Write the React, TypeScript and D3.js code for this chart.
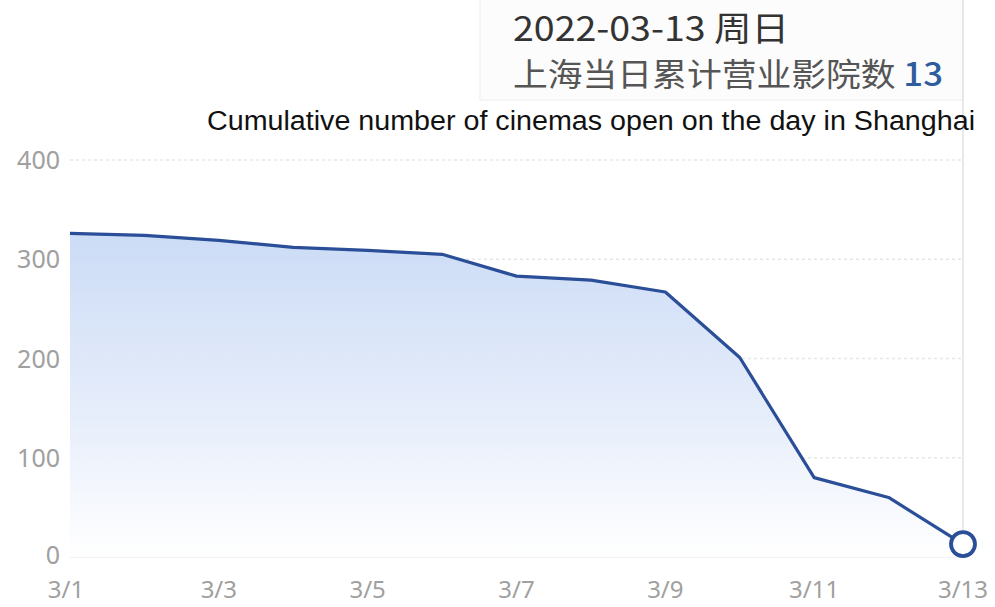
import React, { useEffect, useRef } from "react";
import * as d3 from "d3";

// Data
const days: string[] = [
  "3/1", "3/2", "3/3", "3/4", "3/5", "3/6", "3/7",
  "3/8", "3/9", "3/10", "3/11", "3/12", "3/13",
];
const cinemas: number[] = [326, 324, 319, 312, 309, 305, 283, 279, 267, 201, 80, 60, 13];
const yTicks: number[] = [0, 100, 200, 300, 400];
const xTickLabels: string[] = ["3/1", "3/3", "3/5", "3/7", "3/9", "3/11", "3/13"];

const App: React.FC = () => {
  const svgRef = useRef<SVGSVGElement>(null);

  useEffect(() => {
    if (!svgRef.current) return;
    const width = 995;
    const height = 607;
    const margin = { top: 160, right: 32, bottom: 50, left: 70 };

    const svg = d3.select(svgRef.current);
    svg.selectAll("*").remove();
    svg.attr("width", width).attr("height", height);

    const xScale = d3
      .scalePoint<string>()
      .domain(days)
      .range([margin.left, width - margin.right]);

    const yScale = d3
      .scaleLinear()
      .domain([0, 400])
      .range([height - margin.bottom, margin.top]);

    // Gradient for the area
    const defs = svg.append("defs");
    const grad = defs
      .append("linearGradient")
      .attr("id", "areaFill")
      .attr("x1", 0)
      .attr("y1", 0)
      .attr("x2", 0)
      .attr("y2", 1);
    grad.append("stop").attr("offset", "0%").attr("stop-color", "#c6d8f5");
    grad.append("stop").attr("offset", "55%").attr("stop-color", "#e3ebfa");
    grad.append("stop").attr("offset", "100%").attr("stop-color", "#ffffff");

    // Tooltip panel background
    const lastX = xScale(days[days.length - 1]) || 0;
    svg
      .append("rect")
      .attr("x", 480)
      .attr("y", -4)
      .attr("width", lastX - 480)
      .attr("height", 104)
      .attr("fill", "#fcfcfc")
      .attr("stroke", "#f3f3f3")
      .attr("stroke-width", 1.5);

    // Grid lines
    svg
      .append("g")
      .selectAll("line")
      .data(yTicks.filter((d) => d > 0))
      .enter()
      .append("line")
      .attr("x1", margin.left)
      .attr("x2", lastX)
      .attr("y1", (d) => yScale(d))
      .attr("y2", (d) => yScale(d))
      .attr("stroke", "#e6e6e6")
      .attr("stroke-width", 1.5)
      .attr("stroke-dasharray", "3,3");

    // Baseline
    svg
      .append("line")
      .attr("x1", margin.left)
      .attr("x2", lastX)
      .attr("y1", yScale(0))
      .attr("y2", yScale(0))
      .attr("stroke", "#ececec")
      .attr("stroke-width", 1.5);

    // Crosshair
    svg
      .append("line")
      .attr("x1", lastX)
      .attr("x2", lastX)
      .attr("y1", 0)
      .attr("y2", yScale(0))
      .attr("stroke", "#e2e2e2")
      .attr("stroke-width", 1.5);

    // Area
    const area = d3
      .area<number>()
      .x((_, i) => xScale(days[i]) || 0)
      .y0(yScale(0))
      .y1((d) => yScale(d));
    svg
      .append("path")
      .datum(cinemas)
      .attr("d", area)
      .attr("fill", "url(#areaFill)")
      .attr("opacity", 0.9);

    // Line
    const line = d3
      .line<number>()
      .x((_, i) => xScale(days[i]) || 0)
      .y((d) => yScale(d));
    svg
      .append("path")
      .datum(cinemas)
      .attr("d", line)
      .attr("fill", "none")
      .attr("stroke", "#2b4e98")
      .attr("stroke-width", 3.2)
      .attr("stroke-linejoin", "round");

    // Highlighted end point
    svg
      .append("circle")
      .attr("cx", lastX)
      .attr("cy", yScale(cinemas[cinemas.length - 1]))
      .attr("r", 12)
      .attr("fill", "#ffffff")
      .attr("stroke", "#2b4e98")
      .attr("stroke-width", 3.8);

    // Y axis labels
    svg
      .append("g")
      .selectAll("text")
      .data(yTicks)
      .enter()
      .append("text")
      .attr("x", 60)
      .attr("y", (d) => yScale(d) - (d === 0 ? 2 : 0))
      .attr("dy", "0.36em")
      .attr("text-anchor", "end")
      .style("font-family", "'Noto Sans', sans-serif")
      .style("font-size", "25px")
      .style("fill", "#a0a0a0")
      .text((d) => d);

    // X axis labels
    svg
      .append("g")
      .selectAll("text")
      .data(xTickLabels)
      .enter()
      .append("text")
      .attr("x", (d) => (xScale(d) || 0) - (d === "3/1" ? 4 : 0))
      .attr("y", 598)
      .attr("text-anchor", "middle")
      .style("font-family", "'Noto Sans', sans-serif")
      .style("font-size", "24px")
      .style("fill", "#a0a0a0")
      .text((d) => d);

    // Tooltip texts
    svg
      .append("text")
      .attr("x", 513)
      .attr("y", 41)
      .attr("textLength", 276)
      .attr("lengthAdjust", "spacingAndGlyphs")
      .style("font-family", "'Noto Sans CJK SC', 'Noto Sans', sans-serif")
      .style("font-size", "34px")
      .style("fill", "#333333")
      .text("2022-03-13 周日");

    const t2 = svg
      .append("text")
      .attr("x", 513)
      .attr("y", 86)
      .attr("textLength", 430)
      .attr("lengthAdjust", "spacingAndGlyphs")
      .style("font-family", "'Noto Sans CJK SC', 'Noto Sans', sans-serif")
      .style("font-size", "32px")
      .style("fill", "#555555");
    t2.append("tspan").text("上海当日累计营业影院数 ");
    t2.append("tspan")
      .style("fill", "#2f5c9c")
      .style("font-weight", "500")
      .text(cinemas[cinemas.length - 1]);

    svg
      .append("text")
      .attr("x", 207)
      .attr("y", 130)
      .attr("textLength", 768)
      .attr("lengthAdjust", "spacingAndGlyphs")
      .style("font-family", "'Liberation Sans', Arial, sans-serif")
      .style("font-size", "27px")
      .style("fill", "#111111")
      .text("Cumulative number of cinemas open on the day in Shanghai");
  }, []);

  return (
    <div style={{ position: "absolute", top: 0, left: 0, background: "#ffffff" }}>
      <svg ref={svgRef} style={{ display: "block" }}></svg>
    </div>
  );
};

export default App;
